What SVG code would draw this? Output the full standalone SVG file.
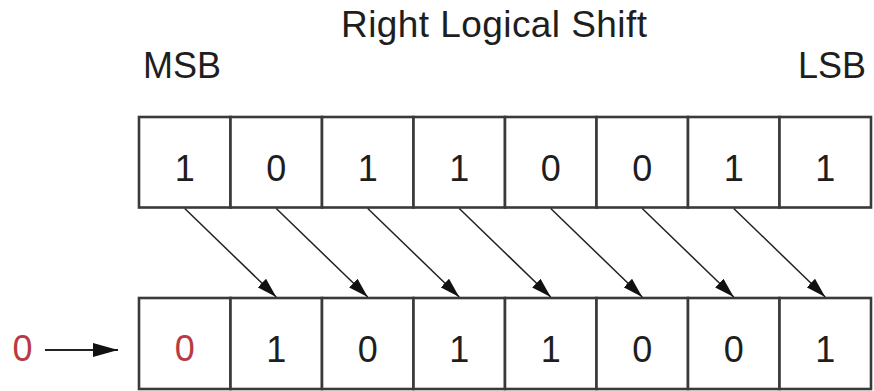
<svg xmlns="http://www.w3.org/2000/svg" width="874" height="391" viewBox="0 0 874 391">
<style>
.cell{fill:#fff;stroke:#3a3a3a;stroke-width:2.6}
.t{font-family:"Liberation Sans",Arial,sans-serif;font-size:36px;fill:#1e1e1e;text-anchor:middle}
.red{fill:#b83a44}
.conn{stroke:#222;stroke-width:1.5;fill:none}
</style>
<defs>
<marker id="ah" viewBox="0 0 20 12" refX="20" refY="6" markerWidth="20" markerHeight="12" markerUnits="userSpaceOnUse" orient="auto">
<path d="M0,0 L20,6 L0,12 Z" fill="#111"/>
</marker>
<marker id="ahb" viewBox="0 0 25 14" refX="25" refY="7" markerWidth="25" markerHeight="14" markerUnits="userSpaceOnUse" orient="auto">
<path d="M0,0 L25,7 L0,14 Z" fill="#111"/>
</marker>
</defs>
<rect width="874" height="391" fill="#fff"/>
<g id="title"><text class="t" x="494" y="37" style="font-size:37px" textLength="306" lengthAdjust="spacing">Right Logical Shift</text></g>
<g id="msb"><text class="t" x="182" y="78">MSB</text></g>
<g id="lsb"><text class="t" x="832" y="78">LSB</text></g>
<g id="top-row">
<g id="t0"><rect class="cell" x="139" y="117" width="91.5" height="90.5"/><text class="t" x="184.75" y="180.5">1</text></g>
<g id="t1"><rect class="cell" x="230.5" y="117" width="91.5" height="90.5"/><text class="t" x="276.25" y="180.5">0</text></g>
<g id="t2"><rect class="cell" x="322" y="117" width="91.5" height="90.5"/><text class="t" x="367.75" y="180.5">1</text></g>
<g id="t3"><rect class="cell" x="413.5" y="117" width="91.5" height="90.5"/><text class="t" x="459.25" y="180.5">1</text></g>
<g id="t4"><rect class="cell" x="505" y="117" width="91.5" height="90.5"/><text class="t" x="550.75" y="180.5">0</text></g>
<g id="t5"><rect class="cell" x="596.5" y="117" width="91.5" height="90.5"/><text class="t" x="642.25" y="180.5">0</text></g>
<g id="t6"><rect class="cell" x="688" y="117" width="91.5" height="90.5"/><text class="t" x="733.75" y="180.5">1</text></g>
<g id="t7"><rect class="cell" x="779.5" y="117" width="91.5" height="90.5"/><text class="t" x="825.25" y="180.5">1</text></g>
</g>
<g id="bottom-row">
<g id="b0"><rect class="cell" x="139" y="298" width="91.5" height="91"/><text class="t red" x="184.75" y="361">0</text></g>
<g id="b1"><rect class="cell" x="230.5" y="298" width="91.5" height="91"/><text class="t" x="276.25" y="362">1</text></g>
<g id="b2"><rect class="cell" x="322" y="298" width="91.5" height="91"/><text class="t" x="367.75" y="362">0</text></g>
<g id="b3"><rect class="cell" x="413.5" y="298" width="91.5" height="91"/><text class="t" x="459.25" y="362">1</text></g>
<g id="b4"><rect class="cell" x="505" y="298" width="91.5" height="91"/><text class="t" x="550.75" y="362">1</text></g>
<g id="b5"><rect class="cell" x="596.5" y="298" width="91.5" height="91"/><text class="t" x="642.25" y="362">0</text></g>
<g id="b6"><rect class="cell" x="688" y="298" width="91.5" height="91"/><text class="t" x="733.75" y="362">0</text></g>
<g id="b7"><rect class="cell" x="779.5" y="298" width="91.5" height="91"/><text class="t" x="825.25" y="362">1</text></g>
</g>
<g id="input"><text class="t red" x="22.5" y="361">0</text></g>
<g id="connectors">
<line class="conn" x1="184.75" y1="208.5" x2="276.25" y2="297" marker-end="url(#ah)"/>
<line class="conn" x1="276.25" y1="208.5" x2="367.75" y2="297" marker-end="url(#ah)"/>
<line class="conn" x1="367.75" y1="208.5" x2="459.25" y2="297" marker-end="url(#ah)"/>
<line class="conn" x1="459.25" y1="208.5" x2="550.75" y2="297" marker-end="url(#ah)"/>
<line class="conn" x1="550.75" y1="208.5" x2="642.25" y2="297" marker-end="url(#ah)"/>
<line class="conn" x1="642.25" y1="208.5" x2="733.75" y2="297" marker-end="url(#ah)"/>
<line class="conn" x1="733.75" y1="208.5" x2="825.25" y2="297" marker-end="url(#ah)"/>
<line class="conn" style="stroke-width:2" x1="45" y1="350" x2="118" y2="350" marker-end="url(#ahb)"/>
</g>
</svg>
